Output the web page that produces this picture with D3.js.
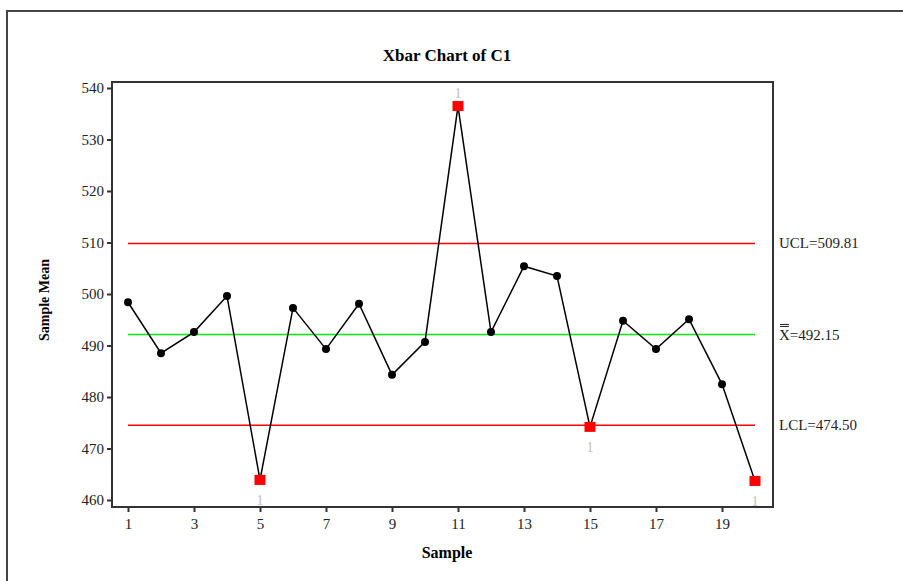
<!DOCTYPE html>
<html><head><meta charset="utf-8">
<script src="https://cdn.jsdelivr.net/npm/d3@7"></script>
<style>body{margin:0;background:#fff}svg{display:block}</style>
</head><body>
<script>
const samples = [1,2,3,4,5,6,7,8,9,10,11,12,13,14,15,16,17,18,19,20];
const means = [498.4,488.5,492.6,499.6,463.9,497.3,489.3,498.1,484.3,490.7,536.5,492.6,505.4,503.5,474.2,494.8,489.3,495.1,482.5,463.7];
const xTicks = [1,3,5,7,9,11,13,15,17,19];
const yTicks = [460,470,480,490,500,510,520,530,540];
const UCL = 509.81, CL = 492.15, LCL = 474.50;
const failed = [5,11,15,20];

const W = 903, H = 581;
const svg = d3.select("body").append("svg").attr("width", W).attr("height", H);
const font = "'Liberation Serif', 'DejaVu Serif', serif";

// outer border
svg.append("rect").attr("x",7).attr("y",11).attr("width",W+10).attr("height",H+10)
  .attr("fill","none").attr("stroke","#444").attr("stroke-width",2);

const frame = {l:112, t:82, r:773, b:507};
const x = d3.scaleLinear().domain([1,20]).range([128,755]);
const y = d3.scaleLinear().domain([460,540]).range([500,88]);

svg.append("text").attr("x",447).attr("y",61).attr("text-anchor","middle")
  .attr("font-family",font).attr("font-weight","bold").attr("font-size",17)
  .text("Xbar Chart of C1");

// frame
svg.append("rect").attr("x",frame.l).attr("y",frame.t).attr("width",frame.r-frame.l).attr("height",frame.b-frame.t)
  .attr("fill","none").attr("stroke","#333").attr("stroke-width",2);

// y axis
const yAxis = d3.axisLeft(y).tickValues(yTicks).tickSize(5).tickPadding(3);
const gy = svg.append("g").attr("transform",`translate(${frame.l},0)`).call(yAxis);
gy.select(".domain").remove();
gy.selectAll("line").attr("stroke","#333").attr("stroke-width",2);
gy.selectAll("text").attr("font-family",font).attr("font-size",15).attr("fill","#222");

// x axis
const xAxis = d3.axisBottom(x).tickValues(xTicks).tickSize(5).tickPadding(6);
const gx = svg.append("g").attr("transform",`translate(0,${frame.b})`).call(xAxis);
gx.select(".domain").remove();
gx.selectAll("line").attr("stroke","#333").attr("stroke-width",2);
gx.selectAll("text").attr("font-family",font).attr("font-size",15).attr("fill","#222");

svg.append("text").attr("x",447).attr("y",558).attr("text-anchor","middle")
  .attr("font-family",font).attr("font-weight","bold").attr("font-size",16).text("Sample");
svg.append("text").attr("transform","translate(49,300) rotate(-90)").attr("text-anchor","middle")
  .attr("font-family",font).attr("font-weight","bold").attr("font-size",14).text("Sample Mean");

// control lines
[[UCL,"#ff0000"],[CL,"#00ee00"],[LCL,"#ff0000"]].forEach(([v,c])=>{
  svg.append("line").attr("x1",x(1)).attr("x2",x(20)).attr("y1",y(v)).attr("y2",y(v))
    .attr("stroke",c).attr("stroke-width",1.5);
});

// labels on right
const lx = 779;
svg.append("text").attr("x",lx).attr("y",y(UCL)+5).attr("font-family",font).attr("font-size",15).attr("fill","#222").text("UCL=509.81");
svg.append("text").attr("x",lx).attr("y",y(CL)+6).attr("font-family",font).attr("font-size",15).attr("fill","#222").text("X=492.15");
[-10,-8].forEach(o=>svg.append("line").attr("x1",lx+1).attr("x2",lx+10).attr("y1",y(CL)+o).attr("y2",y(CL)+o).attr("stroke","#222").attr("stroke-width",1));
svg.append("text").attr("x",lx).attr("y",y(LCL)+5).attr("font-family",font).attr("font-size",15).attr("fill","#222").text("LCL=474.50");

// line
const data = samples.map((s,i)=>({s, v:means[i], bad: failed.includes(s)}));
svg.append("path").datum(data)
  .attr("d", d3.line().x(d=>x(d.s)).y(d=>y(d.v)))
  .attr("fill","none").attr("stroke","#000").attr("stroke-width",1.5);

// failed test labels
data.filter(d=>d.bad).forEach(d=>{
  const above = d.v > CL;
  svg.append("text").attr("x",x(d.s)).attr("y", above ? y(d.v)-8 : y(d.v)+25)
    .attr("text-anchor","middle").attr("font-family",font).attr("font-size",14).attr("fill","#c0c0c0").text("1");
});

svg.selectAll("circle.pt").data(data.filter(d=>!d.bad)).enter().append("circle")
  .attr("cx",d=>x(d.s)).attr("cy",d=>y(d.v)).attr("r",4).attr("fill","#000");
svg.selectAll("rect.pt").data(data.filter(d=>d.bad)).enter().append("rect")
  .attr("x",d=>x(d.s)-5.5).attr("y",d=>y(d.v)-5).attr("width",11).attr("height",10).attr("fill","#ff0000");
</script>
</body></html>
